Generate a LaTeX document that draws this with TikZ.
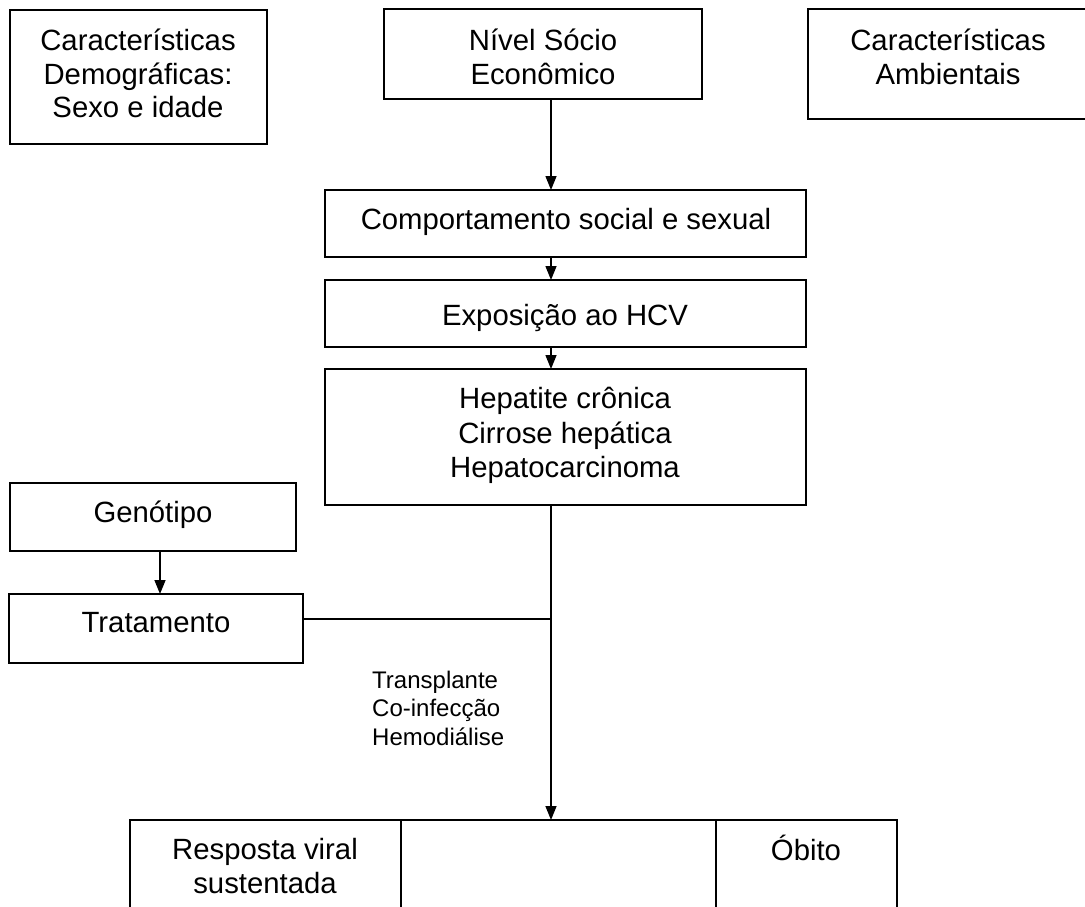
\documentclass[tikz,border=0pt]{standalone}
\usepackage{fontspec}
\setmainfont{Liberation Sans}
\usetikzlibrary{arrows.meta}
\begin{document}
\begin{tikzpicture}[x=1pt,y=-1pt,
  box/.style={draw, line width=1.8pt, inner sep=0pt, outer sep=0pt, anchor=north west},
  txt/.style={anchor=base, inner sep=0pt, font=\fontsize{29.3}{34}\selectfont},
  small/.style={anchor=base west, inner sep=0pt, font=\fontsize{24}{28}\selectfont},
  arr/.style={line width=1.5pt, -{Triangle[length=14pt,width=11pt]}},
  ln/.style={line width=1.5pt}]
\fill[white] (0,0) rectangle (1085,907);
\useasboundingbox (0,0) rectangle (1085,907);
\clip (0,0) rectangle (1085,907);

% boxes
\node[box, minimum width=257, minimum height=134] (b1) at (10,10) {};
\node[box, minimum width=318, minimum height=90] (b2) at (384,9) {};
\node[box, minimum width=295, minimum height=110] (b3) at (808,9) {};
\node[box, minimum width=481, minimum height=67] (b4) at (325,190) {};
\node[box, minimum width=481, minimum height=67] (b5) at (325,280) {};
\node[box, minimum width=481, minimum height=136] (b6) at (325,369) {};
\node[box, minimum width=286, minimum height=68] (bg) at (10,483) {};
\node[box, minimum width=294, minimum height=69] (bt) at (9,594) {};
\node[box, minimum width=271, minimum height=110] (r1) at (130,820) {};
\node[box, minimum width=315, minimum height=110] (r2) at (401,820) {};
\node[box, minimum width=181, minimum height=110] (r3) at (716,820) {};

% texts
\node[txt] (t1a) at (138,50.5) {Características};
\node[txt] (t1b) at (138,84.5) {Demográficas:};
\node[txt] (t1c) at (138,117.5) {Sexo e idade};
\node[txt] (t2a) at (543,50.5) {Nível Sócio};
\node[txt] (t2b) at (543,84.5) {Econômico};
\node[txt] (t3a) at (948,50.5) {Características};
\node[txt] (t3b) at (948,84.5) {Ambientais};
\node[txt] (t4) at (566,229.5) {Comportamento social e sexual};
\node[txt] (t5) at (565,325.5) {Exposição ao HCV};
\node[txt] (t6a) at (565,408.5) {Hepatite crônica};
\node[txt] (t6b) at (565,443.5) {Cirrose hepática};
\node[txt] (t6c) at (565,477.5) {Hepatocarcinoma};
\node[txt] (tg) at (153,522) {Genótipo};
\node[txt] (tt) at (156,632.5) {Tratamento};
\node[small] (la) at (372,688.6) {Transplante};
\node[small] (lb) at (372,716.6) {Co-infecção};
\node[small] (lc) at (372,745.6) {Hemodiálise};
\node[txt] (tr1) at (265,859.5) {Resposta viral};
\node[txt] (tr2) at (265,893.5) {sustentada};
\node[txt] (tr3) at (806,860) {Óbito};

% connectors
\coordinate (spine) at (551,0);
\coordinate (gx) at (160,0);
\coordinate (junc) at (551,619);
\draw[arr] (b2.south -| spine) -- (b4.north -| spine);
\draw[arr] (b4.south -| spine) -- (b5.north -| spine);
\draw[arr] (b5.south -| spine) -- (b6.north -| spine);
\draw[arr] (bg.south -| gx) -- (bt.north -| gx);
\draw[ln] (bt.east |- junc) -- (junc);
\draw[arr] (b6.south -| spine) -- (r2.north -| spine);
\end{tikzpicture}
\end{document}
